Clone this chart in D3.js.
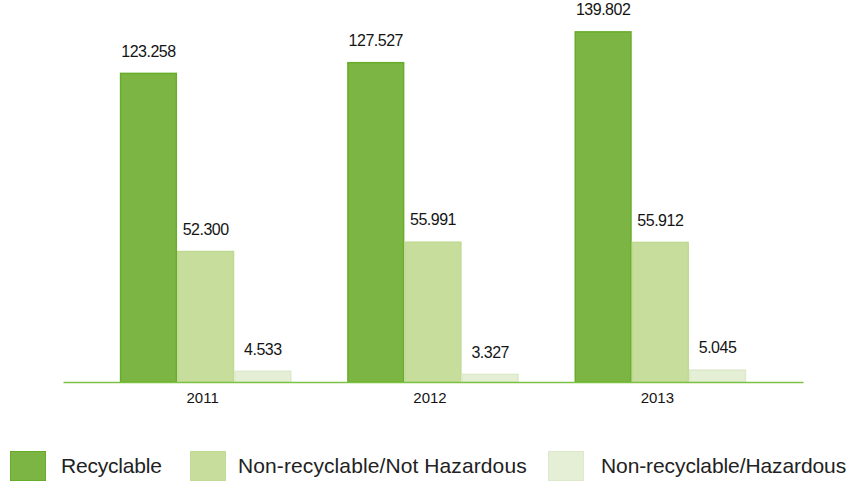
<!DOCTYPE html>
<html>
<head>
<meta charset="utf-8">
<script src="https://cdn.jsdelivr.net/npm/d3@7"></script>
<style>
  html, body { margin: 0; padding: 0; background: #fff; }
  svg { display: block; }
</style>
</head>
<body>
<svg id="chart" width="853" height="482"></svg>
<script>
// Waste by type (tonnes), per year
const years = ["2011", "2012", "2013"];
const seriesNames = ["Recyclable", "Non-recyclable/Not Hazardous", "Non-recyclable/Hazardous"];
const recyclable = [123.258, 127.527, 139.802];
const nonRecyclableNotHazardous = [52.300, 55.991, 55.912];
const nonRecyclableHazardous = [4.533, 3.327, 5.045];
const valueLabels = [
  ["123.258", "127.527", "139.802"],
  ["52.300", "55.991", "55.912"],
  ["4.533", "3.327", "5.045"]
];

const seriesValues = [recyclable, nonRecyclableNotHazardous, nonRecyclableHazardous];
const fills = ["#7db544", "#c6dd9c", "#e4efd5"];
const strokes = ["#68ad2a", "#c0d993", "#dde9cb"];

const svg = d3.select("#chart");
const baseY = 382;

const x0 = d3.scaleBand()
  .domain(years)
  .range([63, 803])
  .paddingInner(0.245)
  .paddingOuter(0.25);

const x1 = d3.scaleBand()
  .domain(d3.range(seriesNames.length))
  .range([0, x0.bandwidth()]);

const y = d3.scaleLinear()
  .domain([0, 152.2])
  .range([baseY, 0]);

// grouped bars
const rows = years.map((yr, i) => ({
  year: yr,
  items: seriesValues.map((vals, s) => ({ s, v: vals[i], label: valueLabels[s][i] }))
}));

const groups = svg.append("g").selectAll("g")
  .data(rows)
  .join("g")
  .attr("transform", d => `translate(${x0(d.year)},0)`);

groups.selectAll("rect")
  .data(d => d.items)
  .join("rect")
  .attr("x", d => x1(d.s) + 0.75)
  .attr("y", d => y(d.v) + 0.75)
  .attr("width", x1.bandwidth() - 1.5)
  .attr("height", d => Math.max(0, baseY - y(d.v) - 0.75))
  .attr("fill", d => fills[d.s])
  .attr("stroke", d => strokes[d.s])
  .attr("stroke-width", 1.5);

groups.selectAll("text")
  .data(d => d.items)
  .join("text")
  .attr("x", d => x1(d.s) + x1.bandwidth() / 2)
  .attr("y", d => y(d.v) - 16)
  .attr("text-anchor", "middle")
  .attr("font-family", "Liberation Sans, Arial, sans-serif")
  .attr("font-size", 16)
  .attr("letter-spacing", -0.5)
  .attr("fill", "#141414")
  .text(d => d.label);

// category axis with green baseline
const axis = svg.append("g")
  .attr("transform", `translate(0,${baseY})`)
  .call(d3.axisBottom(x0).tickSize(0).tickSizeOuter(0).tickPadding(10));
axis.select(".domain").attr("stroke", "#7cc143").attr("stroke-width", 1.5);
axis.selectAll(".tick text")
  .attr("dx", -3)
  .attr("font-family", "Liberation Sans, Arial, sans-serif")
  .attr("font-size", 15)
  .attr("fill", "#141414");

// legend
const legendX = [10, 190, 548];
const legend = svg.append("g").selectAll("g")
  .data(seriesNames)
  .join("g")
  .attr("transform", (d, i) => `translate(${legendX[i]},451)`);

legend.append("rect")
  .attr("x", 0.5).attr("y", 0.5)
  .attr("width", 35).attr("height", 29)
  .attr("fill", (d, i) => fills[i])
  .attr("stroke", (d, i) => strokes[i]);

legend.append("text")
  .attr("x", (d, i) => [51, 48, 53][i])
  .attr("y", 22)
  .attr("font-family", "Liberation Sans, Arial, sans-serif")
  .attr("font-size", 21)
  .attr("letter-spacing", (d, i) => [-0.2, 0.1, -0.1][i])
  .attr("fill", "#222")
  .text(d => d);
</script>
</body>
</html>
